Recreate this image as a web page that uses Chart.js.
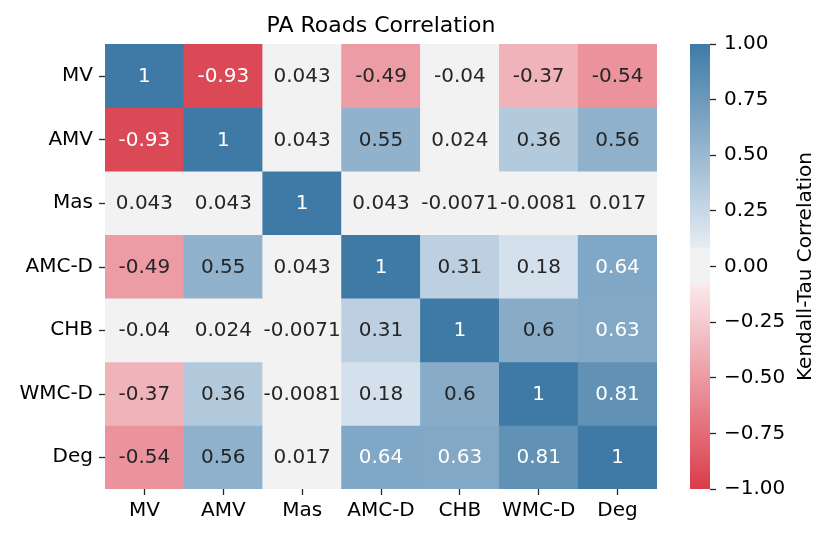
<!DOCTYPE html>
<html>
<head>
<meta charset="utf-8">
<script src="https://cdn.jsdelivr.net/npm/chart.js@4"></script>
<style>
  html, body { margin: 0; padding: 0; background: #fff; }
  #wrap { width: 830px; height: 539px; position: relative; }
</style>
</head>
<body>
<div id="wrap"><canvas id="chart"></canvas></div>
<script>
// heatmap data, one array per row
const labels = ['MV', 'AMV', 'Mas', 'AMC-D', 'CHB', 'WMC-D', 'Deg'];
const rowMV   = [1, -0.93, 0.043, -0.49, -0.04, -0.37, -0.54];
const rowAMV  = [-0.93, 1, 0.043, 0.55, 0.024, 0.36, 0.56];
const rowMas  = [0.043, 0.043, 1, 0.043, -0.0071, -0.0081, 0.017];
const rowAMCD = [-0.49, 0.55, 0.043, 1, 0.31, 0.18, 0.64];
const rowCHB  = [-0.04, 0.024, -0.0071, 0.31, 1, 0.6, 0.63];
const rowWMCD = [-0.37, 0.36, -0.0081, 0.18, 0.6, 1, 0.81];
const rowDeg  = [-0.54, 0.56, 0.017, 0.64, 0.63, 0.81, 1];
const rows = [rowMV, rowAMV, rowMas, rowAMCD, rowCHB, rowWMCD, rowDeg];
const cbTicks = [1, 0.75, 0.5, 0.25, 0, -0.25, -0.5, -0.75, -1];

const TXT = '#262626';
const FONT = 'DejaVu Sans';

// diverging red - light gray - blue map
function cellColor(v) {
  const band = 0.08;
  const mid = [242, 242, 242];
  let a, b, t;
  if (Math.abs(v) <= band) return mid;
  if (v > 0) { a = [230, 237, 244]; b = [63, 122, 166]; t = (v - band) / (1 - band); }
  else { a = [250, 234, 237]; b = [218, 60, 74]; t = (-v - band) / (1 - band); }
  t = Math.min(1, t);
  return a.map((c, i) => Math.round(c + (b[i] - c) * t));
}
const rgb = c => `rgb(${c[0]},${c[1]},${c[2]})`;
function lum(c) {
  const l = c.map(x => { x /= 255; return x <= 0.03928 ? x / 12.92 : Math.pow((x + 0.055) / 1.055, 2.4); });
  return 0.2126 * l[0] + 0.7152 * l[1] + 0.0722 * l[2];
}

const datasets = rows.map((vals, r) => ({
  label: labels[r],
  data: vals.map(() => [r - 0.5, r + 0.5]),
  values: vals,
  backgroundColor: vals.map(v => rgb(cellColor(v))),
  borderWidth: 0,
  grouped: false,
  barPercentage: 1,
  categoryPercentage: 1
}));

const extras = {
  id: 'extras',
  afterDatasetsDraw(chart) {
    const ctx = chart.ctx;
    ctx.save();
    ctx.font = `20px "${FONT}"`;
    ctx.textAlign = 'center';
    ctx.textBaseline = 'middle';
    chart.data.datasets.forEach((ds, i) => {
      chart.getDatasetMeta(i).data.forEach((bar, j) => {
        const v = ds.values[j];
        ctx.fillStyle = lum(cellColor(v)) < 0.38 ? '#ffffff' : TXT;
        ctx.fillText(String(v), bar.x, (bar.y + bar.base) / 2 + 1);
      });
    });
    ctx.restore();
  },
  afterDraw(chart) {
    const ctx = chart.ctx;
    const area = chart.chartArea;
    const cb = chart.scales.cb;
    const gap = chart.scales.gap;
    const y = chart.scales.y;
    const top = cb.getPixelForValue(1), bot = cb.getPixelForValue(-1);
    const x1 = gap.right - 20;
    ctx.save();
    const g = ctx.createLinearGradient(0, top, 0, bot);
    for (let k = 0; k <= 200; k++) {
      const v = 1 - k / 100;
      g.addColorStop(k / 200, rgb(cellColor(v)));
    }
    ctx.fillStyle = g;
    ctx.fillRect(x1, top, 20, bot - top);

    // row tick marks
    ctx.strokeStyle = TXT;
    ctx.lineWidth = 1.3;
    labels.forEach((_, i) => {
      const py = Math.round(y.getPixelForValue(i)) + 0.5;
      ctx.beginPath();
      ctx.moveTo(area.left - 6, py);
      ctx.lineTo(area.left, py);
      ctx.stroke();
    });

    // title over the heatmap
    ctx.fillStyle = '#000';
    ctx.font = `22px "${FONT}"`;
    ctx.textAlign = 'center';
    ctx.textBaseline = 'alphabetic';
    ctx.fillText('PA Roads Correlation', (area.left + area.right) / 2, 32);

    // colorbar label
    ctx.font = `20px "${FONT}"`;
    ctx.textBaseline = 'middle';
    ctx.translate(806, (top + bot) / 2);
    ctx.rotate(-Math.PI / 2);
    ctx.fillText('Kendall-Tau Correlation', 0, 0);
    ctx.restore();
  }
};

new Chart(document.getElementById('chart').getContext('2d'), {
  type: 'bar',
  data: { labels: labels, datasets: datasets },
  options: {
    responsive: true,
    maintainAspectRatio: false,
    animation: false,
    layout: { padding: { top: 44, left: 0, right: 0, bottom: 0 } },
    plugins: { legend: { display: false }, tooltip: { enabled: false } },
    scales: {
      x: {
        type: 'category',
        offset: true,
        grid: { display: true, offset: false, drawOnChartArea: false, tickLength: 6, tickColor: TXT, tickWidth: 1.3 },
        border: { display: false },
        ticks: { color: '#000', font: { family: FONT, size: 20 }, padding: 4, maxRotation: 0 },
        afterFit: s => { s.height = 50; }
      },
      y: {
        type: 'linear',
        min: -0.5, max: 6.5,
        reverse: true,
        grid: { display: false },
        border: { display: false },
        afterBuildTicks: s => { s.ticks = labels.map((_, i) => ({ value: i })); },
        ticks: { color: '#000', font: { family: FONT, size: 20 }, padding: 4, callback: v => labels[v] },
        afterFit: s => { s.width = 105; }
      },
      gap: {
        type: 'linear',
        position: 'right',
        weight: 0,
        grid: { display: false },
        border: { display: false },
        ticks: { display: false },
        afterFit: s => { s.width = 53; }
      },
      cb: {
        type: 'linear',
        position: 'right',
        weight: 1,
        min: -1, max: 1,
        grid: { display: true, drawOnChartArea: false, tickLength: 6, tickColor: TXT, tickWidth: 1.3 },
        border: { display: false },
        afterBuildTicks: s => { s.ticks = cbTicks.map(v => ({ value: v })); },
        ticks: {
          color: '#000',
          font: { family: FONT, size: 20 },
          padding: 8,
          callback: v => v.toFixed(2).replace('-', '\u2212')
        },
        afterFit: s => { s.width = 120; }
      }
    }
  },
  plugins: [extras]
});
</script>
</body>
</html>
